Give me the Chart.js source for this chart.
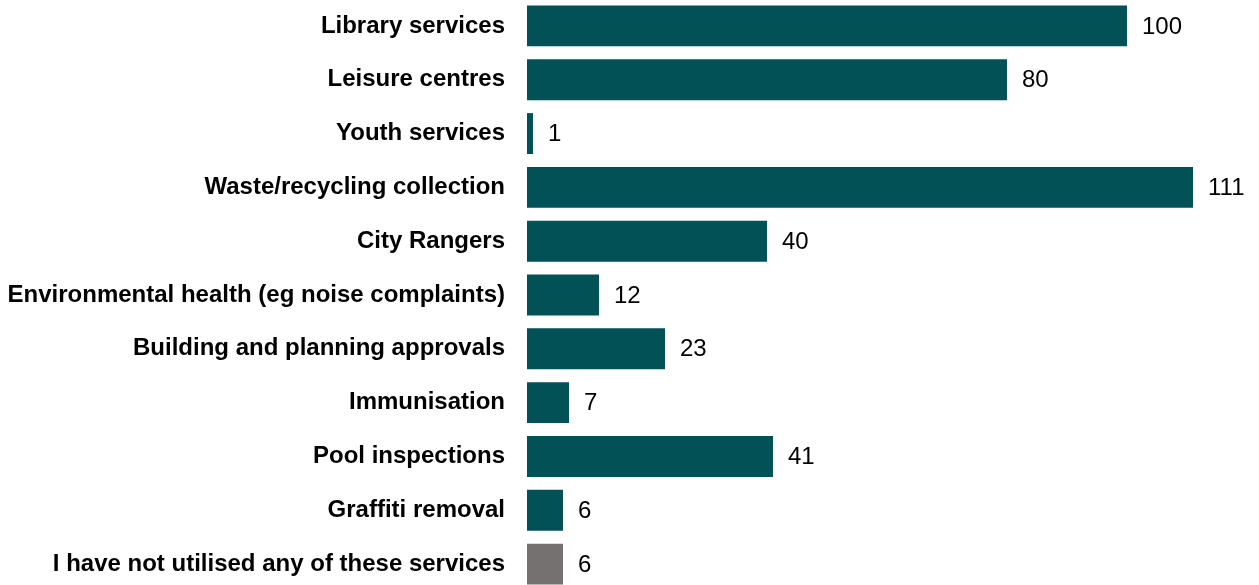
<!DOCTYPE html>
<html>
<head>
<meta charset="utf-8">
<script src="https://cdn.jsdelivr.net/npm/chart.js@4"></script>
<style>
  html, body { margin: 0; padding: 0; background: #fff; overflow: hidden; }
  #chart { position: absolute; left: 0; top: -1px; }
</style>
</head>
<body>
<canvas id="chart" width="1259" height="592"></canvas>
<script>
// services used in the last year
const services = [
    'Library services',
    'Leisure centres',
    'Youth services',
    'Waste/recycling collection',
    'City Rangers',
    'Environmental health (eg noise complaints)',
    'Building and planning approvals',
    'Immunisation',
    'Pool inspections',
    'Graffiti removal',
    'I have not utilised any of these services'
];
const counts = [100, 80, 1, 111, 40, 12, 23, 7, 41, 6, 6];
const barColours = ['#025157', '#025157', '#025157', '#025157', '#025157', '#025157',
    '#025157', '#025157', '#025157', '#025157', '#767171'];

const FONT = "'Liberation Sans', Arial, sans-serif";

// draws the count just past the end of each bar
const valueLabels = {
    id: 'valueLabels',
    afterDatasetsDraw(chart) {
        const ctx = chart.ctx;
        const meta = chart.getDatasetMeta(0);
        ctx.save();
        ctx.font = `24px ${FONT}`;
        ctx.fillStyle = '#000';
        ctx.textAlign = 'left';
        ctx.textBaseline = 'middle';
        meta.data.forEach((bar, i) => {
            ctx.fillText(String(counts[i]), bar.x + 15, bar.y + 1);
        });
        ctx.restore();
    }
};

const chart = new Chart(document.getElementById('chart'), {
    type: 'bar',
    data: {
        labels: services,
        datasets: [{
            data: counts,
            backgroundColor: barColours,
            borderWidth: 0,
            barPercentage: 0.76,
            categoryPercentage: 1
        }]
    },
    options: {
        indexAxis: 'y',
        responsive: false,
        animation: false,
        layout: { padding: 0 },
        plugins: {
            legend: { display: false },
            tooltip: { enabled: false }
        },
        scales: {
            x: {
                display: false,
                min: 0,
                max: 122
            },
            y: {
                grid: { display: false, drawTicks: false },
                border: { display: false },
                ticks: {
                    padding: 22,
                    color: '#000',
                    font: { family: FONT, size: 24, weight: 'bold' }
                },
                afterFit(scale) {
                    scale.width = 527;
                    scale.paddingTop = 0;
                    scale.paddingBottom = 0;
                }
            }
        }
    },
    plugins: [valueLabels]
});
</script>
</body>
</html>
